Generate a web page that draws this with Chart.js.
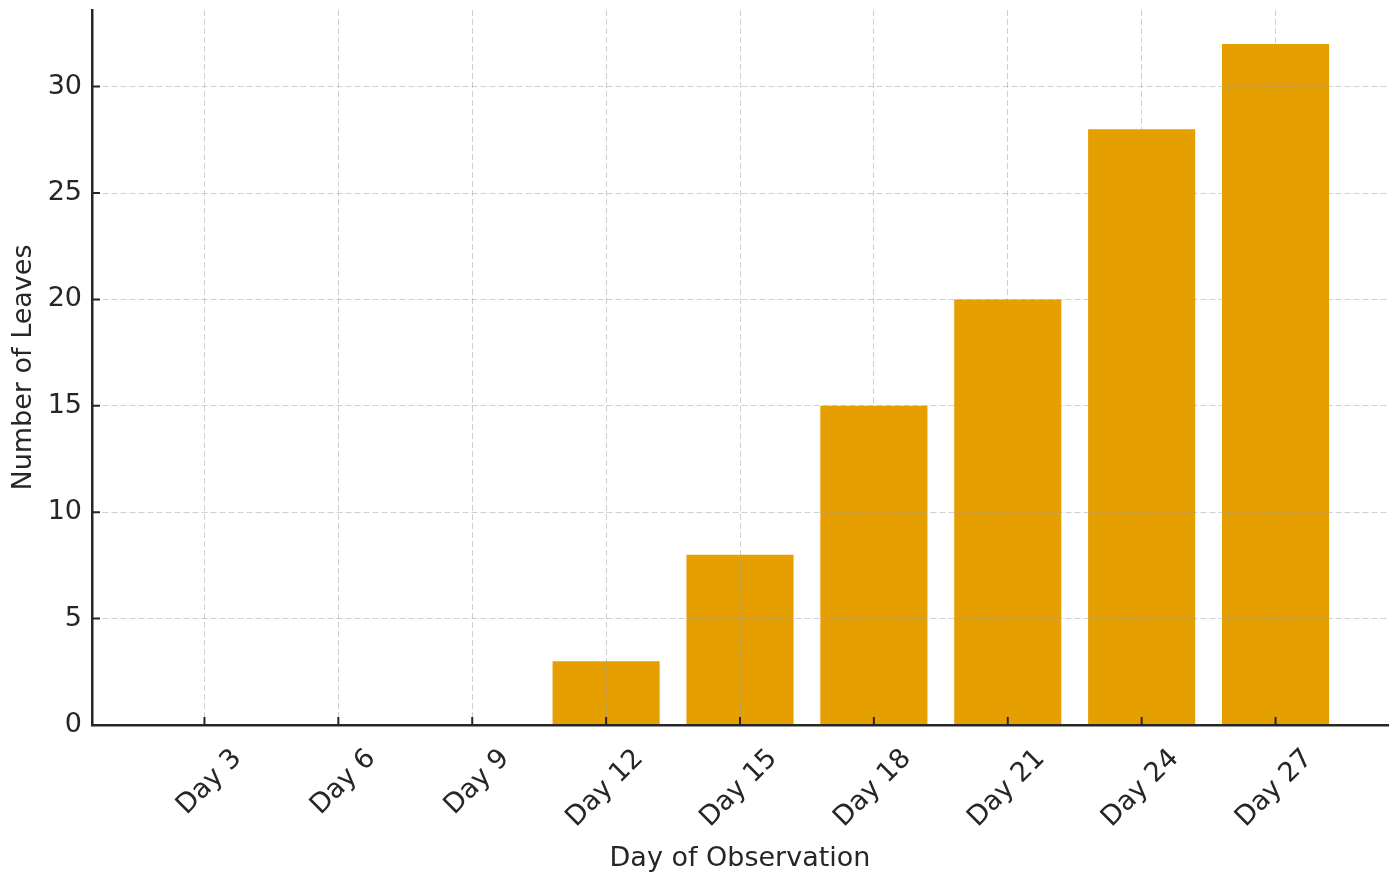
<!DOCTYPE html>
<html>
<head>
<meta charset="utf-8">
<script src="https://cdn.jsdelivr.net/npm/chart.js@4/dist/chart.umd.min.js"></script>
<style>
  html, body { margin: 0; padding: 0; background: #fff; }
  #wrap { width: 1399px; height: 877px; }
</style>
</head>
<body>
<div id="wrap"><canvas id="leavesChart"></canvas></div>
<script>
const days = ['Day 3', 'Day 6', 'Day 9', 'Day 12', 'Day 15', 'Day 18', 'Day 21', 'Day 24', 'Day 27'];
const leaves = [0, 0, 0, 3, 8, 15, 20, 28, 32];
const yTicks = [0, 5, 10, 15, 20, 25, 30];

const ink = '#262626';
const gridColor = 'rgba(160,160,160,0.5)';
const font = { family: 'DejaVu Sans', size: 27 };

// matplotlib style: short tick marks pointing into the plot
const innerTicks = {
  id: 'innerTicks',
  afterDraw(chart) {
    const { ctx, scales: { x, y } } = chart;
    ctx.save();
    ctx.strokeStyle = ink;
    ctx.lineWidth = 2;
    ctx.beginPath();
    x.ticks.forEach(t => {
      const px = x.getPixelForValue(t.value);
      ctx.moveTo(px, y.bottom);
      ctx.lineTo(px, y.bottom - 8);
    });
    y.ticks.forEach(t => {
      const py = y.getPixelForValue(t.value);
      ctx.moveTo(x.left, py);
      ctx.lineTo(x.left + 8, py);
    });
    ctx.stroke();
    ctx.restore();
  }
};

new Chart(document.getElementById('leavesChart'), {
  type: 'bar',
  data: {
    datasets: [{
      label: 'Number of Leaves',
      data: leaves.map((v, i) => ({ x: i, y: v })),
      backgroundColor: '#E69F00',
      borderWidth: 0,
      barPercentage: 0.8,
      categoryPercentage: 1
    }]
  },
  options: {
    responsive: true,
    maintainAspectRatio: false,
    animation: false,
    layout: { padding: { left: 0, top: 10, right: 11, bottom: 0 } },
    plugins: { legend: { display: false }, tooltip: { enabled: false } },
    scales: {
      x: {
        type: 'linear',
        min: -0.84,
        max: 8.84,
        offset: false,
        afterBuildTicks: axis => { axis.ticks = days.map((_, i) => ({ value: i })); },
        afterFit: axis => { axis.height = 152; axis.paddingLeft = 0; axis.paddingRight = 0; },
        grid: { color: gridColor, lineWidth: 1, drawTicks: false, offset: false, z: 1 },
        border: { display: true, color: ink, width: 2.5, dash: [6, 3], z: 2 },
        ticks: {
          callback: v => days[v],
          autoSkip: false,
          minRotation: 45,
          maxRotation: 45,
          padding: 18,
          labelOffset: 33,
          color: ink,
          font
        },
        title: { display: true, text: 'Day of Observation', color: ink, font, padding: { top: 0, bottom: 2 } }
      },
      y: {
        min: 0,
        max: 33.6,
        afterBuildTicks: axis => { axis.ticks = yTicks.map(v => ({ value: v })); },
        afterFit: axis => { axis.width = 92; axis.paddingTop = 0; axis.paddingBottom = 0; },
        grid: { color: gridColor, lineWidth: 1, drawTicks: false, z: 1 },
        border: { display: true, color: ink, width: 2.5, dash: [6, 3], z: 2 },
        ticks: { padding: 10, color: ink, font },
        title: { display: true, text: 'Number of Leaves', color: ink, font, padding: { top: 8, bottom: 0 } }
      }
    }
  },
  plugins: [innerTicks]
});
</script>
</body>
</html>
